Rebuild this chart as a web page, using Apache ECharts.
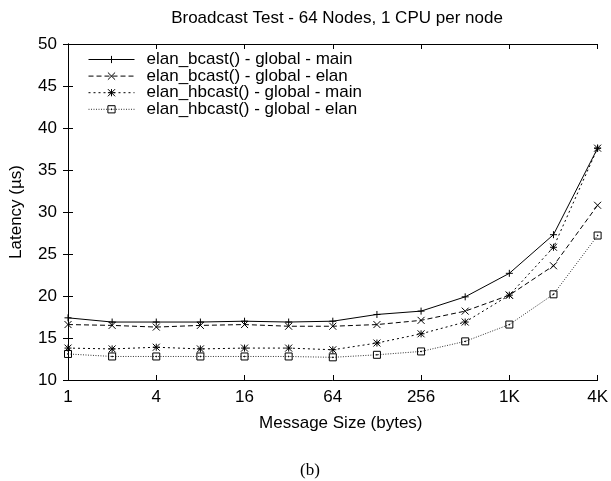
<!DOCTYPE html>
<html>
<head>
<meta charset="utf-8">
<script src="https://cdn.jsdelivr.net/npm/echarts@6/dist/echarts.min.js"></script>
<style>
  html, body { margin: 0; padding: 0; background: #fff; }
  #chart { width: 611px; height: 481px; }
</style>
</head>
<body>
<div id="chart"></div>
<script>
// Message sizes in bytes (plotted on a base-2 logarithmic axis)
const messageSizes = [1, 2, 4, 8, 16, 32, 64, 128, 256, 512, 1024, 2048, 4096];
const xTickLabels = ['1', '4', '16', '64', '256', '1K', '4K'];

// Latency in microseconds
const bcastGlobalMain  = [17.4, 16.9, 16.9, 16.9, 17.0, 16.9, 17.0, 17.8, 18.2, 19.9, 22.7, 27.3, 37.6];
const bcastGlobalElan  = [16.6, 16.5, 16.3, 16.5, 16.6, 16.4, 16.4, 16.6, 17.1, 18.2, 20.1, 23.6, 30.8];
const hbcastGlobalMain = [13.8, 13.7, 13.9, 13.7, 13.8, 13.8, 13.6, 14.4, 15.5, 16.9, 20.1, 25.8, 37.6];
const hbcastGlobalElan = [13.1, 12.8, 12.8, 12.8, 12.8, 12.8, 12.7, 13.0, 13.4, 14.6, 16.6, 20.2, 27.2];

const seriesNames = [
  'elan_bcast() - global - main',
  'elan_bcast() - global - elan',
  'elan_hbcast() - global - main',
  'elan_hbcast() - global - elan'
];

const FONT = 'Liberation Sans, Arial, Helvetica, sans-serif';

// point glyphs: plus, cross, asterisk, box with centre dot
const SYM_PLUS  = 'path://M0,5L10,5M5,0L5,10';
const SYM_CROSS = 'path://M0,0L10,10M10,0L0,10';
const SYM_STAR  = 'path://M0,5L10,5M5,0L5,10M0,0L10,10M10,0L0,10';
const SYM_BOX   = 'path://M0,0L10,0L10,10L0,10ZM4.5,4.5L5.5,4.5L5.5,5.5L4.5,5.5Z';

function toPairs(values) {
  return values.map((v, i) => [Math.log2(messageSizes[i]), v]);
}

function makeSeries(name, values, symbol, dash, color) {
  return {
    name: name,
    type: 'line',
    data: toPairs(values),
    symbol: symbol,
    symbolSize: 7,
    showAllSymbol: true,
    xAxisIndex: 0,
    yAxisIndex: 0,
    lineStyle: { color: color, width: 1, type: dash },
    itemStyle: { color: 'transparent', borderColor: '#000', borderWidth: 1 },
    emphasis: { disabled: true }
  };
}

const axisLineStyle = { show: true, lineStyle: { color: '#000', width: 1 } };
const tickStyle = { show: true, inside: true, length: 5, lineStyle: { color: '#000', width: 1 } };

const chart = echarts.init(document.getElementById('chart'), null, { renderer: 'canvas' });

chart.setOption({
  animation: false,
  backgroundColor: '#fff',
  title: {
    text: 'Broadcast Test - 64 Nodes, 1 CPU per node',
    left: 332,
    textAlign: 'center',
    top: 5,
    textStyle: { fontFamily: FONT, fontSize: 17, fontWeight: 'normal', color: '#000' }
  },
  grid: { left: 66.7, right: 12.7, top: 44, bottom: 101 },
  legend: {
    orient: 'vertical',
    left: 83,
    top: 46,
    padding: 5,
    itemWidth: 46,
    itemHeight: 9,
    itemGap: -0.4,
    selectedMode: false,
    data: seriesNames,
    lineStyle: { width: 1 },
    itemStyle: { borderWidth: 1 },
    textStyle: { fontFamily: FONT, fontSize: 17, color: '#000', lineHeight: 16.3, padding: [0, 0, 0, 7] }
  },
  xAxis: [
    {
      type: 'value',
      position: 'bottom',
      min: 0, max: 12, interval: 2,
      name: 'Message Size (bytes)',
      nameLocation: 'middle',
      nameGap: 35,
      nameTextStyle: { fontFamily: FONT, fontSize: 17, color: '#000', padding: [0, 0, 0, 16] },
      axisLine: axisLineStyle,
      axisTick: tickStyle,
      axisLabel: {
        margin: 9,
        fontFamily: FONT, fontSize: 17, color: '#000',
        formatter: v => xTickLabels[Math.round(v / 2)]
      },
      splitLine: { show: false }
    },
    {
      type: 'value',
      position: 'top',
      min: 0, max: 12, interval: 2,
      axisLine: axisLineStyle,
      axisTick: tickStyle,
      axisLabel: { show: false },
      splitLine: { show: false }
    }
  ],
  yAxis: [
    {
      type: 'value',
      position: 'left',
      min: 10, max: 50, interval: 5,
      name: 'Latency (µs)',
      nameLocation: 'middle',
      nameGap: 43,
      nameTextStyle: { fontFamily: FONT, fontSize: 17, color: '#000' },
      axisLine: axisLineStyle,
      axisTick: tickStyle,
      axisLabel: { margin: 11, fontFamily: FONT, fontSize: 17, color: '#000' },
      splitLine: { show: false }
    },
    {
      type: 'value',
      position: 'right',
      min: 10, max: 50, interval: 5,
      axisLine: axisLineStyle,
      axisTick: tickStyle,
      axisLabel: { show: false },
      splitLine: { show: false }
    }
  ],
  series: [
    makeSeries(seriesNames[0], bcastGlobalMain,  SYM_PLUS,  'solid',  '#000'),
    makeSeries(seriesNames[1], bcastGlobalElan,  SYM_CROSS, [5, 3],   '#000'),
    makeSeries(seriesNames[2], hbcastGlobalMain, SYM_STAR,  [2, 3],   '#000'),
    makeSeries(seriesNames[3], hbcastGlobalElan, SYM_BOX,   [1, 1.5], '#333')
  ],
  graphic: [
    {
      type: 'text',
      left: 300,
      top: 462,
      style: { text: '(b)', font: '17px "Liberation Serif", "Times New Roman", serif', fill: '#000' }
    }
  ]
});
</script>
</body>
</html>
